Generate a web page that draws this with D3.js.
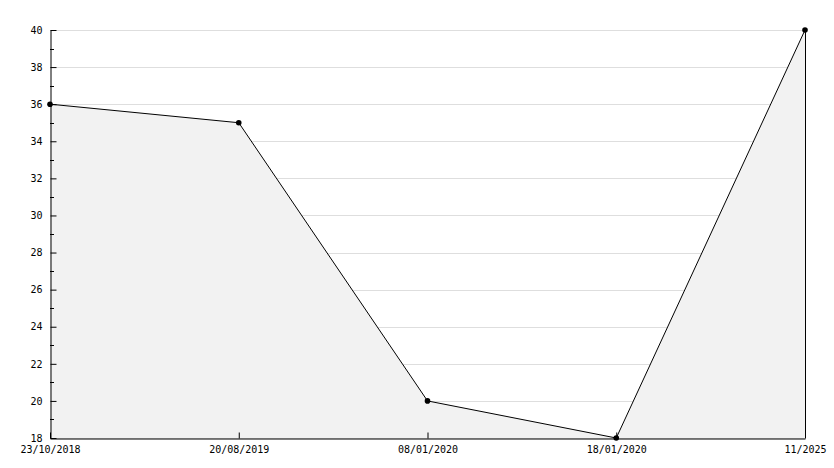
<!DOCTYPE html>
<html>
<head>
<meta charset="utf-8">
<script src="https://cdn.jsdelivr.net/npm/d3@7"></script>
<style>
  body { margin: 0; background: #fff; }
  text { font-family: "DejaVu Sans Mono", monospace; font-size: 10px; fill: #000; }
</style>
</head>
<body>
<svg id="chart" width="834" height="468"></svg>
<script>
// chart data
var dates = ["23/10/2018", "20/08/2019", "08/01/2020", "18/01/2020", "11/2025"];
var values = [36, 35, 20, 18, 40];
var yTicks = [18, 20, 22, 24, 26, 28, 30, 32, 34, 36, 38, 40];

var width = 834, height = 468;
var margin = {left: 50, right: 29, top: 30, bottom: 30};

var svg = d3.select("#chart");

var x = d3.scalePoint()
    .domain(dates)
    .range([margin.left, width - margin.right]);

var y = d3.scaleLinear()
    .domain([18, 40])
    .range([height - margin.bottom, margin.top]);

var data = dates.map(function(d, i){ return {date: d, value: values[i]}; });

// grid lines
svg.append("g")
    .selectAll("line")
    .data(yTicks)
    .enter().append("line")
    .attr("x1", x.range()[0])
    .attr("x2", x.range()[1])
    .attr("y1", function(d){ return Math.round(y(d)) + 0.5; })
    .attr("y2", function(d){ return Math.round(y(d)) + 0.5; })
    .attr("stroke", "#dedede");

// filled area under the line
var area = d3.area()
    .x(function(d){ return x(d.date); })
    .y0(y(18))
    .y1(function(d){ return y(d.value); });

svg.append("path")
    .datum(data)
    .attr("d", area)
    .attr("fill", "#f2f2f2");

// right edge of the area
var last = data[data.length - 1];
svg.append("line")
    .attr("x1", x(last.date) + 0.5)
    .attr("x2", x(last.date) + 0.5)
    .attr("y1", y(last.value))
    .attr("y2", y(18))
    .attr("stroke", "#000");

var line = d3.line()
    .x(function(d){ return x(d.date); })
    .y(function(d){ return y(d.value); });

svg.append("path")
    .datum(data)
    .attr("d", line)
    .attr("fill", "none")
    .attr("stroke", "#000")
    .attr("stroke-width", 1);

// y axis, ticks pointing inwards
var yAxis = svg.append("g")
    .attr("transform", "translate(" + (margin.left + 0.5) + ",0)")
    .call(d3.axisLeft(y).tickValues(yTicks).tickSize(0).tickPadding(8).tickSizeOuter(0));
yAxis.select(".domain").attr("stroke", "#000");
yAxis.selectAll(".tick line").attr("x2", 6).attr("stroke", "#000");
yAxis.selectAll(".tick text").attr("font-family", null).attr("font-size", null);

// minor ticks
svg.append("g")
    .selectAll("line")
    .data(d3.range(19, 40, 2))
    .enter().append("line")
    .attr("x1", margin.left)
    .attr("x2", margin.left + 4)
    .attr("y1", function(d){ return Math.round(y(d)) + 0.5; })
    .attr("y2", function(d){ return Math.round(y(d)) + 0.5; })
    .attr("stroke", "#000");

// x axis, ticks pointing inwards
var xAxis = svg.append("g")
    .attr("transform", "translate(0," + (y(18) + 0.5) + ")")
    .call(d3.axisBottom(x).tickSize(0).tickPadding(7).tickSizeOuter(0));
xAxis.select(".domain").attr("stroke", "#000");
xAxis.selectAll(".tick line").attr("y2", -6).attr("stroke", "#000");
xAxis.selectAll(".tick text").attr("font-family", null).attr("font-size", null);

// point markers
svg.append("g")
    .selectAll("circle")
    .data(data)
    .enter().append("circle")
    .attr("cx", function(d){ return x(d.date); })
    .attr("cy", function(d){ return y(d.value); })
    .attr("r", 2.8)
    .attr("fill", "#000");
</script>
</body>
</html>
